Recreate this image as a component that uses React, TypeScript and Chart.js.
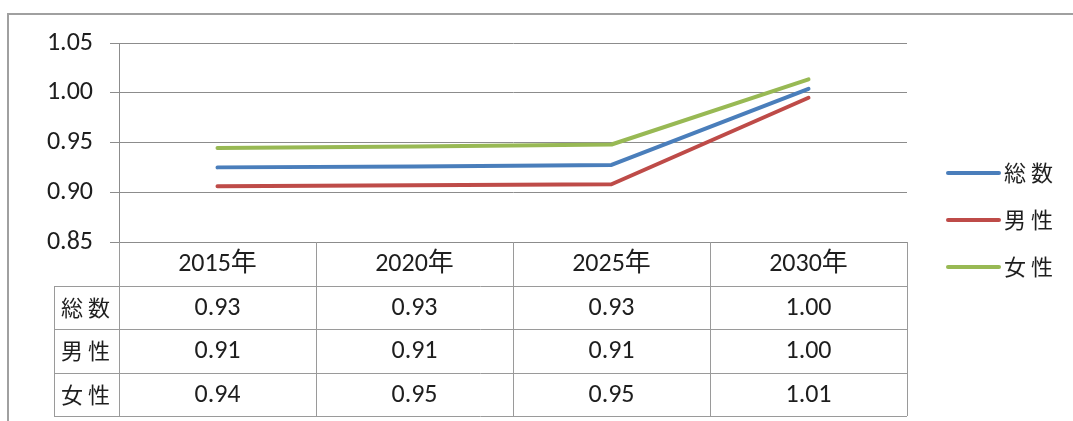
import React, { useEffect, useRef } from "react";
import { Chart, registerables } from "chart.js";

Chart.register(...registerables);

const categories = ["2015年", "2020年", "2025年", "2030年"];
const seriesNames = ["総数", "男性", "女性"];
const totalValues = [0.925, 0.926, 0.9275, 1.004];
const maleValues = [0.906, 0.907, 0.908, 0.995];
const femaleValues = [0.9445, 0.946, 0.948, 1.0135];
const totalTable = ["0.93", "0.93", "0.93", "1.00"];
const maleTable = ["0.91", "0.91", "0.91", "1.00"];
const femaleTable = ["0.94", "0.95", "0.95", "1.01"];
const yTicks = [0.85, 0.9, 0.95, 1.0, 1.05];

const colors = ["#4a7ebb", "#be4b48", "#98b954"];
const FONT = "Carlito, Lato, 'Noto Sans CJK JP', sans-serif";
const CJK = "'Noto Sans CJK JP', sans-serif";

function spacedText(ctx: CanvasRenderingContext2D, s: string, x: number, y: number, gap: number, align: "left" | "center") {
  const chars = Array.from(s);
  const widths = chars.map((c) => ctx.measureText(c).width);
  const total = widths.reduce((a, b) => a + b, 0) + gap * (chars.length - 1);
  let cx = align === "center" ? x - total / 2 : x;
  const prev = ctx.textAlign;
  ctx.textAlign = "left";
  chars.forEach((c, i) => {
    ctx.fillText(c, cx, y);
    cx += widths[i] + gap;
  });
  ctx.textAlign = prev;
}

const tablePlugin = {
  id: "tableAndLegend",
  afterDraw(chart: any) {
    const ctx = chart.ctx as CanvasRenderingContext2D;
    const area = chart.chartArea;
    const x = chart.scales.x;
    const W = chart.width;
    ctx.save();
    // outer frame
    ctx.strokeStyle = "#a0a0a0";
    ctx.lineWidth = 2;
    ctx.beginPath();
    ctx.moveTo(W + 2, 14);
    ctx.lineTo(8, 14);
    ctx.lineTo(8, chart.height + 2);
    ctx.stroke();

    // table
    const n = categories.length;
    const step = (area.right - area.left) / n;
    const top = area.bottom;
    const rowH = 43.5;
    const labelLeft = 54;
    const rows = [totalTable, maleTable, femaleTable];
    const bottom = top + rowH * (rows.length + 1);
    ctx.strokeStyle = "#9a9a9a";
    ctx.lineWidth = 1;
    ctx.beginPath();
    for (let i = 0; i <= n; i++) {
      const xx = Math.round(area.left + step * i) + 0.5;
      ctx.moveTo(xx, top);
      ctx.lineTo(xx, bottom);
    }
    for (let r = 1; r <= rows.length + 1; r++) {
      const yy = Math.round(top + rowH * r) + 0.5;
      ctx.moveTo(labelLeft, yy);
      ctx.lineTo(area.right, yy);
    }
    ctx.moveTo(labelLeft + 0.5, Math.round(top + rowH) + 0.5);
    ctx.lineTo(labelLeft + 0.5, Math.round(bottom) + 0.5);
    ctx.stroke();

    ctx.fillStyle = "#1e1e1e";
    ctx.textAlign = "center";
    ctx.textBaseline = "middle";
    ctx.font = `26px ${FONT}`;
    categories.forEach((c, i) => {
      const cx = x.getPixelForValue(i);
      ctx.fillText(c, cx, top + rowH / 2 + 1);
      rows.forEach((row, r) => {
        ctx.fillText(row[i], cx, top + rowH * (r + 1) + rowH / 2 + 1);
      });
    });
    ctx.font = `22px ${CJK}`;
    seriesNames.forEach((s, r) => {
      spacedText(ctx, s, (labelLeft + area.left) / 2 - 1, top + rowH * (r + 1) + rowH / 2, 5, "center");
    });

    // legend
    const legendY = [173, 220, 267];
    seriesNames.forEach((s, i) => {
      ctx.strokeStyle = colors[i];
      ctx.lineWidth = 4;
      ctx.lineCap = "round";
      ctx.beginPath();
      ctx.moveTo(948, legendY[i]);
      ctx.lineTo(999, legendY[i]);
      ctx.stroke();
      ctx.fillStyle = "#1e1e1e";
      spacedText(ctx, s, 1004, legendY[i], 5, "left");
    });
    ctx.restore();
  },
};

export default function App() {
  const ref = useRef<HTMLCanvasElement>(null);
  useEffect(() => {
    if (!ref.current) return;
    const chart = new Chart(ref.current, {
      type: "line",
      data: {
        labels: categories,
        datasets: [totalValues, maleValues, femaleValues].map((d, i) => ({
          label: seriesNames[i],
          data: d,
          borderColor: colors[i],
          backgroundColor: colors[i],
          borderWidth: 4,
          pointRadius: 0,
          tension: 0,
          borderCapStyle: "round" as const,
          borderJoinStyle: "round" as const,
        })),
      },
      options: {
        animation: false,
        responsive: true,
        maintainAspectRatio: false,
        layout: { padding: { top: 43, right: 166, bottom: 179, left: 0 } },
        plugins: { legend: { display: false }, tooltip: { enabled: false } },
        scales: {
          x: {
            type: "category",
            offset: true,
            display: false,
          },
          y: {
            min: 0.85,
            max: 1.05,
            afterFit: (s: any) => {
              s.width = 119;
            },
            afterBuildTicks: (s: any) => {
              s.ticks = yTicks.map((v) => ({ value: v }));
            },
            ticks: {
              padding: 17,
              color: "#1e1e1e",
              font: { family: FONT, size: 26 },
              callback: (v: any) => Number(v).toFixed(2),
            },
            grid: {
              color: "#8c8c8c",
              lineWidth: 1,
              tickLength: 9,
              drawTicks: true,
            },
            border: { display: true, color: "#8c8c8c", width: 1 },
          },
        },
      },
      plugins: [tablePlugin],
    });
    return () => chart.destroy();
  }, []);
  return (
    <div style={{ position: "absolute", left: 0, top: 0, width: 1073, height: 421, background: "#fff" }}>
      <canvas ref={ref} />
    </div>
  );
}
